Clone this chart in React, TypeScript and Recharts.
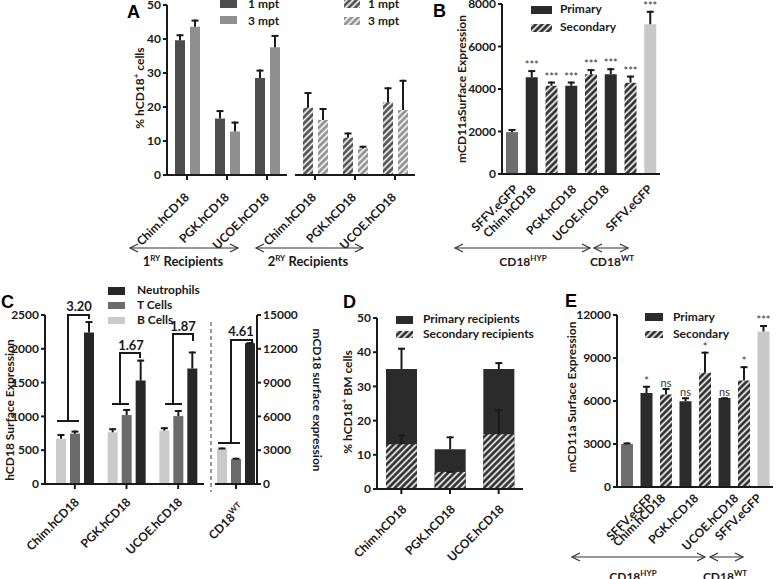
import React from 'react';
import { BarChart, Bar, XAxis, YAxis, Cell, LabelList } from 'recharts';

const FONT = 'Lato, "Open Sans", sans-serif';
const INK = '#1a1a1a';

// ---- Panel A: % hCD18+ cells, 1 and 3 months post transplant
const aCategories = ['Chim.hCD18', 'PGK.hCD18', 'UCOE.hCD18'];
const aPrimary1 = [39.6, 16.6, 28.5];
const aPrimary1Err = [1.8, 2.5, 2.5];
const aPrimary3 = [43.6, 12.8, 37.6];
const aPrimary3Err = [2.1, 2.9, 3.6];
const aSecondary1 = [19.8, 11.0, 21.4];
const aSecondary1Err = [4.6, 1.5, 4.4];
const aSecondary3 = [16.2, 7.8, 19.1];
const aSecondary3Err = [3.5, 0.8, 8.9];
const aTicks = [0, 10, 20, 30, 40, 50];

// ---- Panel B: mCD11a surface expression
const bNames = ['SFFV HYP', 'Chim 1', 'Chim 2', 'PGK 1', 'PGK 2', 'UCOE 1', 'UCOE 2', 'SFFV WT'];
const bTickLabels = ['SFFV.eGFP', 'Chim.hCD18', '', 'PGK.hCD18', '', 'UCOE.hCD18', '', 'SFFV.eGFP'];
const bKinds = ['control', 'primary', 'secondary', 'primary', 'secondary', 'primary', 'secondary', 'wt'];
const bValues = [1970, 4550, 4150, 4150, 4700, 4700, 4300, 7050];
const bErrors = [150, 340, 200, 200, 235, 280, 330, 630];
const bStars = ['', '***', '***', '***', '***', '***', '***', '***'];
const bTicks = [0, 2000, 4000, 6000, 8000];

// ---- Panel C: hCD18 / mCD18 surface expression by cell type
const cCategories = ['Chim.hCD18', 'PGK.hCD18', 'UCOE.hCD18'];
const cBCells = [670, 765, 790];
const cBCellsErr = [70, 60, 50];
const cTCells = [745, 1020, 1005];
const cTCellsErr = [45, 90, 90];
const cNeutrophils = [2240, 1530, 1710];
const cNeutrophilsErr = [170, 310, 250];
const cTicks = [0, 500, 1000, 1500, 2000, 2500];
const cWtCategories = ['CD18'];
const cWtBCells = [3130];
const cWtBCellsErr = [110];
const cWtTCells = [2210];
const cWtTCellsErr = [120];
const cWtNeutrophils = [12500];
const cWtNeutrophilsErr = [90];
const cWtTicks = [0, 3000, 6000, 9000, 12000, 15000];

// ---- Panel D: % hCD18+ BM cells
const dCategories = ['Chim.hCD18', 'PGK.hCD18', 'UCOE.hCD18'];
const dPrimary = [35.1, 11.6, 35.1];
const dPrimaryErr = [6.2, 3.8, 2.0];
const dSecondary = [13.1, 5.0, 16.0];
const dSecondaryErr = [2.8, 0.3, 7.3];
const dTicks = [0, 10, 20, 30, 40, 50];

// ---- Panel E: mCD11a surface expression
const eNames = ['SFFV HYP', 'Chim 1', 'Chim 2', 'PGK 1', 'PGK 2', 'UCOE 1', 'UCOE 2', 'SFFV WT'];
const eTickLabels = ['SFFV.eGFP', 'Chim.hCD18', '', 'PGK.hCD18', '', 'UCOE.hCD18', '', 'SFFV.eGFP'];
const eKinds = ['control', 'primary', 'secondary', 'primary', 'secondary', 'primary', 'secondary', 'wt'];
const eValues = [3000, 6560, 6450, 5980, 7970, 6210, 7430, 10850];
const eErrors = [110, 500, 460, 280, 1470, 50, 1000, 450];
const eStars = ['', '*', 'ns', 'ns', '*', 'ns', '*', '***'];
const eTicks = [0, 3000, 6000, 9000, 12000];

const kindFill: Record<string, string> = {
  control: '#6e6e6e',
  primary: '#2b2b2b',
  secondary: 'url(#hatchBlack)',
  wt: '#c8c8c8',
};

const XH = 30; // height recharts reserves for the x axis
const axisStroke = { stroke: INK, strokeWidth: 2 };
const numTick = { fill: INK, fontSize: 12, fontWeight: 700, fontFamily: FONT };

// upper error whisker, drawn as the segment stacked on top of the mean
function errShape(props: any) {
  const x = Number(props.x), y = Number(props.y), w = Number(props.width), h = Number(props.height);
  if (!isFinite(x) || !isFinite(y)) return <g />;
  const cx = x + w / 2;
  return (
    <g stroke={INK} strokeWidth={2}>
      <line x1={cx} y1={y + h} x2={cx} y2={y} />
      <line x1={cx - 3.5} y1={y + 1} x2={cx + 3.5} y2={y + 1} />
    </g>
  );
}

function rotatedTick(labels: string[], dx: number[], yAt: number) {
  return (props: any) => {
    const { x, payload } = props;
    const i = payload.index;
    const text = labels[i];
    if (!text) return <g />;
    const tx = Number(x) + dx[i];
    return (
      <g transform={`translate(${tx},${yAt}) rotate(-45)`}>
        <text x={0} y={0} textAnchor="end" fill={INK} fontSize={12} fontWeight={700} fontFamily={FONT}>{text}</text>
      </g>
    );
  };
}

function wtTick(props: any) {
  const tx = Number(props.x) + 9;
  const ty = 209;
  return (
    <g transform={`translate(${tx},${ty}) rotate(-45)`}>
      <text x={0} y={0} textAnchor="end" fill={INK} fontSize={12} fontWeight={700} fontFamily={FONT}>
        {cWtCategories[props.payload.index]}<tspan fontSize={8} dy={-5}>WT</tspan>
      </text>
    </g>
  );
}

function starLabel(stars: string[]) {
  return (p: any) => {
    const vb = p.viewBox || p;
    const s = stars[p.index];
    if (!s) return <g />;
    const x = Number(vb.x), y = Number(vb.y), w = Number(vb.width);
    return (
      <text x={x + w / 2} y={y - 1} textAnchor="middle" fontSize={11} fill="#333" fontFamily={FONT}>{s}</text>
    );
  };
}

function Hatch({ id, bg }: { id: string; bg: string }) {
  return (
    <pattern id={id} width={4.5} height={4.5} patternUnits="userSpaceOnUse" patternTransform="rotate(45)">
      <rect width={4.5} height={4.5} fill={bg} />
      <line x1={2.25} y1={0} x2={2.25} y2={4.5} stroke="#fff" strokeWidth={1.7} />
    </pattern>
  );
}

const aRows = aCategories.map((name, i) => ({
  name, m1: aPrimary1[i], m1Err: aPrimary1Err[i], m3: aPrimary3[i], m3Err: aPrimary3Err[i],
}));
const aSecRows = aCategories.map((name, i) => ({
  name, m1: aSecondary1[i], m1Err: aSecondary1Err[i], m3: aSecondary3[i], m3Err: aSecondary3Err[i],
}));
const bRows = bNames.map((name, i) => ({ name, value: bValues[i], err: bErrors[i] }));
const cRows = cCategories.map((name, i) => ({
  name,
  b: cBCells[i], bErr: cBCellsErr[i],
  t: cTCells[i], tErr: cTCellsErr[i],
  n: cNeutrophils[i], nErr: cNeutrophilsErr[i],
}));
const cWtRows = cWtCategories.map((name, i) => ({
  name,
  b: cWtBCells[i], bErr: cWtBCellsErr[i],
  t: cWtTCells[i], tErr: cWtTCellsErr[i],
  n: cWtNeutrophils[i], nErr: cWtNeutrophilsErr[i],
}));
const dRows = dCategories.map((name, i) => ({
  name, p: dPrimary[i], pErr: dPrimaryErr[i], s: dSecondary[i], sErr: dSecondaryErr[i],
}));
const eRows = eNames.map((name, i) => ({ name, value: eValues[i], err: eErrors[i] }));

function Arrow({ x1, x2, y }: { x1: number; x2: number; y: number }) {
  return (
    <g stroke="#333" strokeWidth={1.2} fill="none">
      <line x1={x1} y1={y} x2={x2} y2={y} />
      <polyline points={`${x1 + 8},${y - 4} ${x1},${y} ${x1 + 8},${y + 4}`} />
      <polyline points={`${x2 - 8},${y - 4} ${x2},${y} ${x2 - 8},${y + 4}`} />
    </g>
  );
}

function Overlay() {
  const t = { fontFamily: FONT, fontWeight: 700, fill: INK } as const;
  const letter = { fontFamily: '"Liberation Sans", Arial, sans-serif', fontWeight: 700, fontSize: 18, fill: '#000' } as const;
  return (
    <svg width={777} height={579} style={{ position: 'absolute', left: 0, top: 0, pointerEvents: 'none' }}>
      <text x={127} y={18} {...letter}>A</text>
      <text x={433} y={17} {...letter}>B</text>
      <text x={1} y={308} {...letter}>C</text>
      <text x={343} y={308} {...letter}>D</text>
      <text x={565} y={307} {...letter}>E</text>

      {/* axis titles */}
      <text transform="translate(144,88) rotate(-90)" textAnchor="middle" fontSize={12} {...t}>
        % hCD18<tspan fontSize={8} dy={-5}>+</tspan><tspan dy={5}> cells</tspan>
      </text>
      <text transform="translate(466,89) rotate(-90)" textAnchor="middle" fontSize={12} {...t}>mCD11aSurface Expression</text>
      <text transform="translate(14,410) rotate(-90)" textAnchor="middle" fontSize={12} {...t}>hCD18 Surface Expression</text>
      <text transform="translate(313,400) rotate(90)" textAnchor="middle" fontSize={12} {...t}>mCD18 surface expression</text>
      <text transform="translate(352,402) rotate(-90)" textAnchor="middle" fontSize={12} {...t}>
        % hCD18<tspan fontSize={8} dy={-5}>+</tspan><tspan dy={5}> BM cells</tspan>
      </text>
      <text transform="translate(576,397) rotate(-90)" textAnchor="middle" fontSize={12} {...t}>mCD11a Surface Expression</text>

      {/* legends */}
      <rect x={220} y={-1} width={17} height={9} fill="#4d4d4d" />
      <text x={248} y={8} fontSize={12} {...t}>1 mpt</text>
      <rect x={220} y={16} width={17} height={8} fill="#8f8f8f" />
      <text x={248} y={25} fontSize={12} {...t}>3 mpt</text>
      <rect x={344} y={-1} width={16} height={9} fill="url(#hatchA1)" />
      <text x={368} y={8} fontSize={12} {...t}>1 mpt</text>
      <rect x={344} y={17} width={16} height={8} fill="url(#hatchA3)" />
      <text x={368} y={25} fontSize={12} {...t}>3 mpt</text>

      <rect x={531} y={6} width={21} height={8} fill="#2b2b2b" />
      <text x={560} y={13} fontSize={12} {...t}>Primary</text>
      <rect x={531} y={24} width={21} height={8} fill="url(#hatchBlack)" />
      <text x={560} y={31} fontSize={12} {...t}>Secondary</text>

      <rect x={108} y={287} width={17} height={8} fill="#262626" />
      <text x={137} y={294} fontSize={12} {...t}>Neutrophils</text>
      <rect x={108} y={302} width={17} height={7} fill="#6b6b6b" />
      <text x={137} y={309} fontSize={12} {...t}>T Cells</text>
      <rect x={108} y={317} width={17} height={7} fill="#cacaca" />
      <text x={137} y={324} fontSize={12} {...t}>B Cells</text>

      <rect x={396} y={316} width={17} height={8} fill="#2b2b2b" />
      <text x={423} y={323} fontSize={12} {...t}>Primary recipients</text>
      <rect x={396} y={331} width={17} height={7} fill="url(#hatchBlack)" />
      <text x={423} y={338} fontSize={12} {...t}>Secondary recipients</text>

      <rect x={645} y={313} width={18} height={8} fill="#2b2b2b" />
      <text x={673} y={321} fontSize={12} {...t}>Primary</text>
      <rect x={645} y={331} width={18} height={7} fill="url(#hatchBlack)" />
      <text x={673} y={338} fontSize={12} {...t}>Secondary</text>

      {/* group arrows */}
      <Arrow x1={130} x2={238} y={248} />
      <Arrow x1={256} x2={363} y={248} />
      <text x={183} y={266} textAnchor="middle" fontSize={13} {...t}>1<tspan fontSize={8} dy={-5}>RY</tspan><tspan dy={5}> Recipients</tspan></text>
      <text x={308} y={266} textAnchor="middle" fontSize={13} {...t}>2<tspan fontSize={8} dy={-5}>RY</tspan><tspan dy={5}> Recipients</tspan></text>

      <Arrow x1={455} x2={590} y={248} />
      <Arrow x1={594} x2={628} y={248} />
      <text x={523} y={266} textAnchor="middle" fontSize={12} {...t}>CD18<tspan fontSize={8} dy={-5}>HYP</tspan></text>
      <text x={612} y={266} textAnchor="middle" fontSize={12} {...t}>CD18<tspan fontSize={8} dy={-5}>WT</tspan></text>

      <Arrow x1={572} x2={705} y={557} />
      <Arrow x1={710} x2={743} y={557} />
      <text x={633} y={581} textAnchor="middle" fontSize={12} {...t}>CD18<tspan fontSize={8} dy={-5}>HYP</tspan></text>
      <text x={725} y={581} textAnchor="middle" fontSize={12} {...t}>CD18<tspan fontSize={8} dy={-5}>WT</tspan></text>

      {/* fold-change brackets in C */}
      <g stroke={INK} strokeWidth={2} fill="none">
        <path d="M57,421 H79 M68,421 V315 H89 V319" />
        <path d="M112,404 H129 M120,404 V353 H140 V358" />
        <path d="M165,404 H182 M173,404 V334 H193 V341" />
        <path d="M218,443 H240 M231,443 V340 H252 V343" />
      </g>
      <text x={79} y={311} textAnchor="middle" fontSize={13} {...t}>3.20</text>
      <text x={131} y={350} textAnchor="middle" fontSize={13} {...t}>1.67</text>
      <text x={183} y={331} textAnchor="middle" fontSize={13} {...t}>1.87</text>
      <text x={241} y={336} textAnchor="middle" fontSize={13} {...t}>4.61</text>
      <line x1={211} y1={322} x2={211} y2={492} stroke="#7a7a7a" strokeWidth={1.5} strokeDasharray="4 3" />
    </svg>
  );
}

export default function App() {
  return (
    <div style={{ position: 'absolute', left: 0, top: 0, width: 777, height: 579, background: '#fff', overflow: 'hidden', fontFamily: FONT }}>
      <svg width={0} height={0} style={{ position: 'absolute' }}>
        <defs>
          <Hatch id="hatchA1" bg="#4d4d4d" />
          <Hatch id="hatchA3" bg="#8f8f8f" />
          <Hatch id="hatchBlack" bg="#2b2b2b" />
        </defs>
      </svg>

      {/* A, primary recipients */}
      <div style={{ position: 'absolute', left: 0, top: 0 }}>
        <BarChart width={300} height={250} data={aRows} margin={{ top: 5, right: 13, bottom: 75 - XH, left: 0 }} barSize={10} barGap={5}>
          <XAxis dataKey="name" height={XH} interval={0} axisLine={axisStroke} tickLine={axisStroke} tickSize={5}
            tick={rotatedTick(aCategories, [3, 3, 3], 198)} />
          <YAxis width={167} domain={[0, 50]} ticks={aTicks} interval={0} allowDataOverflow
            axisLine={axisStroke} tickLine={axisStroke} tickSize={4} tick={numTick} />
          <Bar dataKey="m1" stackId="m1" fill="#4d4d4d" isAnimationActive={false} />
          <Bar dataKey="m1Err" stackId="m1" shape={errShape} isAnimationActive={false} />
          <Bar dataKey="m3" stackId="m3" fill="#8f8f8f" isAnimationActive={false} />
          <Bar dataKey="m3Err" stackId="m3" shape={errShape} isAnimationActive={false} />
        </BarChart>
      </div>

      {/* A, secondary recipients */}
      <div style={{ position: 'absolute', left: 230, top: 0 }}>
        <BarChart width={190} height={250} data={aSecRows} margin={{ top: 5, right: 5, bottom: 75 - XH, left: 65 }} barSize={10} barGap={5}>
          <XAxis dataKey="name" height={XH} interval={0} axisLine={axisStroke} tickLine={axisStroke} tickSize={5}
            tick={rotatedTick(aCategories, [2, 2, 2], 198)} />
          <YAxis hide domain={[0, 50]} allowDataOverflow />
          <Bar dataKey="m1" stackId="m1" fill="url(#hatchA1)" isAnimationActive={false} />
          <Bar dataKey="m1Err" stackId="m1" shape={errShape} isAnimationActive={false} />
          <Bar dataKey="m3" stackId="m3" fill="url(#hatchA3)" isAnimationActive={false} />
          <Bar dataKey="m3Err" stackId="m3" shape={errShape} isAnimationActive={false} />
        </BarChart>
      </div>

      {/* B */}
      <div style={{ position: 'absolute', left: 380, top: 0 }}>
        <BarChart width={290} height={250} data={bRows} margin={{ top: 4, right: 10, bottom: 76 - XH, left: 0 }} barSize={12}>
          <XAxis dataKey="name" height={XH} interval={0} axisLine={axisStroke} tickLine={false}
            tick={rotatedTick(bTickLabels, [7, 5, 0, 6, 0, -1, 0, 3], 190)} />
          <YAxis width={122} domain={[0, 8000]} ticks={bTicks} interval={0} allowDataOverflow
            axisLine={axisStroke} tickLine={axisStroke} tickSize={4} tick={numTick} />
          <Bar dataKey="value" stackId="b" isAnimationActive={false}>
            {bRows.map((r, i) => <Cell key={r.name} fill={kindFill[bKinds[i]]} />)}
          </Bar>
          <Bar dataKey="err" stackId="b" shape={errShape} isAnimationActive={false}>
            <LabelList dataKey="err" content={starLabel(bStars)} />
          </Bar>
        </BarChart>
      </div>

      {/* C, hCD18 (left axis) */}
      <div style={{ position: 'absolute', left: 0, top: 300 }}>
        <BarChart width={215} height={279} data={cRows} margin={{ top: 15, right: 11, bottom: 95 - XH, left: 0 }} barSize={10} barGap={4}>
          <XAxis dataKey="name" height={XH} interval={0} padding={{ left: 4, right: 0 }} axisLine={axisStroke} tickLine={axisStroke} tickSize={5}
            tick={rotatedTick(cCategories, [5, 5, 5], 203)} />
          <YAxis width={45} domain={[0, 2500]} ticks={cTicks} interval={0} allowDataOverflow
            axisLine={axisStroke} tickLine={axisStroke} tickSize={4} tick={numTick} />
          <Bar dataKey="b" stackId="b" fill="#cacaca" isAnimationActive={false} />
          <Bar dataKey="bErr" stackId="b" shape={errShape} isAnimationActive={false} />
          <Bar dataKey="t" stackId="t" fill="#6b6b6b" isAnimationActive={false} />
          <Bar dataKey="tErr" stackId="t" shape={errShape} isAnimationActive={false} />
          <Bar dataKey="n" stackId="n" fill="#262626" isAnimationActive={false} />
          <Bar dataKey="nErr" stackId="n" shape={errShape} isAnimationActive={false} />
        </BarChart>
      </div>

      {/* C, mCD18 in CD18 WT (right axis) */}
      <div style={{ position: 'absolute', left: 180, top: 300 }}>
        <BarChart width={120} height={279} data={cWtRows} margin={{ top: 15, right: 0, bottom: 95 - XH, left: 35 }} barSize={10} barGap={4}>
          <XAxis dataKey="name" height={XH} interval={0} axisLine={axisStroke} tickLine={axisStroke} tickSize={5} tick={wtTick} />
          <YAxis orientation="right" width={43} domain={[0, 15000]} ticks={cWtTicks} interval={0} allowDataOverflow
            axisLine={axisStroke} tickLine={axisStroke} tickSize={4} tick={numTick} />
          <Bar dataKey="b" stackId="b" fill="#cacaca" isAnimationActive={false} />
          <Bar dataKey="bErr" stackId="b" shape={errShape} isAnimationActive={false} />
          <Bar dataKey="t" stackId="t" fill="#6b6b6b" isAnimationActive={false} />
          <Bar dataKey="tErr" stackId="t" shape={errShape} isAnimationActive={false} />
          <Bar dataKey="n" stackId="n" fill="#262626" isAnimationActive={false} />
          <Bar dataKey="nErr" stackId="n" shape={errShape} isAnimationActive={false} />
        </BarChart>
      </div>

      {/* D: secondary drawn over primary */}
      <div style={{ position: 'absolute', left: 290, top: 300 }}>
        <BarChart width={240} height={279} data={dRows} margin={{ top: 18, right: 7, bottom: 90 - XH, left: 0 }} barSize={31} barGap={-31}>
          <XAxis dataKey="name" height={XH} interval={0} axisLine={axisStroke} tickLine={axisStroke} tickSize={5}
            tick={rotatedTick(dCategories, [6, 6, 6], 210)} />
          <YAxis width={87} domain={[0, 50]} ticks={dTicks} interval={0} allowDataOverflow
            axisLine={axisStroke} tickLine={axisStroke} tickSize={4} tick={numTick} />
          <Bar dataKey="p" stackId="p" fill="#2b2b2b" isAnimationActive={false} />
          <Bar dataKey="pErr" stackId="p" shape={errShape} isAnimationActive={false} />
          <Bar dataKey="s" stackId="s" fill="url(#hatchBlack)" isAnimationActive={false} />
          <Bar dataKey="sErr" stackId="s" shape={errShape} isAnimationActive={false} />
        </BarChart>
      </div>

      {/* E */}
      <div style={{ position: 'absolute', left: 510, top: 300 }}>
        <BarChart width={267} height={279} data={eRows} margin={{ top: 15, right: 4, bottom: 92 - XH, left: 0 }} barSize={12}>
          <XAxis dataKey="name" height={XH} interval={0} axisLine={axisStroke} tickLine={false}
            tick={rotatedTick(eTickLabels, [27, 20, 0, 14, 0, 15, 0, -1], 199)} />
          <YAxis width={107} domain={[0, 12000]} ticks={eTicks} interval={0} allowDataOverflow
            axisLine={axisStroke} tickLine={axisStroke} tickSize={4} tick={numTick} />
          <Bar dataKey="value" stackId="e" isAnimationActive={false}>
            {eRows.map((r, i) => <Cell key={r.name} fill={kindFill[eKinds[i]]} />)}
          </Bar>
          <Bar dataKey="err" stackId="e" shape={errShape} isAnimationActive={false}>
            <LabelList dataKey="err" content={starLabel(eStars)} />
          </Bar>
        </BarChart>
      </div>

      <Overlay />
    </div>
  );
}
